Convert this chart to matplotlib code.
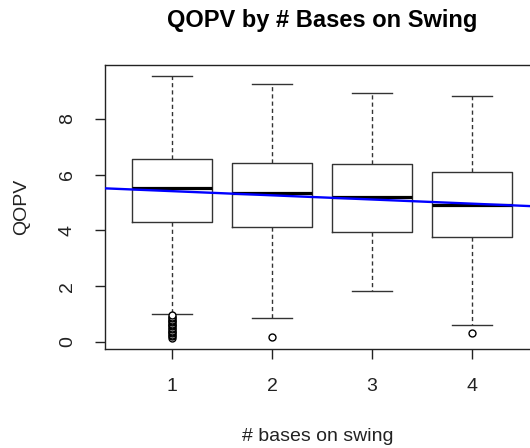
import matplotlib
matplotlib.use("Agg")
import matplotlib.pyplot as plt

plt.rcParams['font.family'] = ['Liberation Sans', 'DejaVu Sans']

# box stats
bases = [1, 2, 3, 4]
whislo = [1.01, 0.85, 1.83, 0.60]
q1 = [4.30, 4.13, 3.95, 3.77]
med = [5.53, 5.33, 5.21, 4.90]
q3 = [6.56, 6.42, 6.37, 6.10]
whishi = [9.55, 9.27, 8.92, 8.81]
fliers = [
    [0.15, 0.2, 0.25, 0.3, 0.35, 0.4, 0.45, 0.5, 0.55, 0.6, 0.65, 0.7, 0.75, 0.8, 0.85, 0.9, 0.95],
    [0.17],
    [],
    [0.30],
]

# regression line
intercept = 5.56
slope = -0.15

stats = []
for i in range(len(bases)):
    stats.append(dict(med=med[i], q1=q1[i], q3=q3[i], whislo=whislo[i],
                      whishi=whishi[i], fliers=fliers[i], label=str(bases[i])))

fig = plt.figure(figsize=(5.3, 4.48), dpi=100)
ax = fig.add_axes([105/530, (448-349.3)/448, 434/530, 284.3/448])

ax.bxp(stats, positions=bases, widths=0.8, patch_artist=False,
       boxprops=dict(color='#333333', linewidth=1),
       medianprops=dict(color='black', linewidth=2.3, solid_capstyle='butt'),
       whiskerprops=dict(color='#333333', linewidth=1, linestyle=(0, (3, 2.2))),
       capprops=dict(color='#333333', linewidth=1),
       flierprops=dict(marker='o', markersize=5, markerfacecolor='white',
                       markeredgecolor='black', markeredgewidth=1),
       capwidths=0.4)

ax.axline((0, intercept), slope=slope, color='blue', linewidth=1.7, zorder=5)

ax.set_xlim(0.33, 4.67)
ax.set_ylim(-0.27, 9.94)
ax.set_xticks(bases)
ax.set_xticklabels([str(b) for b in bases])
ax.set_yticks([0, 2, 4, 6, 8])
ax.set_yticklabels(['0', '2', '4', '6', '8'], rotation=90, va='center')
ax.tick_params(length=7, width=1, colors='#222222', labelsize=14)
ax.tick_params(axis='x', pad=14)
ax.tick_params(axis='y', pad=14)
for s in ax.spines.values():
    s.set_color('#222222')
    s.set_linewidth(1)

fig.text(322/530, 1 - 27/448, "QOPV by # Bases on Swing", ha='center', va='baseline',
         fontsize=17, fontweight='bold')
fig.text(318/530, 1 - 441/448, "# bases on swing", ha='center', va='baseline',
         fontsize=14, color='#222222')
fig.text(21.5/530, 1 - 207/448, "QOPV", ha='center', va='center', rotation=90,
         fontsize=14, color='#222222')

fig.savefig("out.png", dpi=100)
